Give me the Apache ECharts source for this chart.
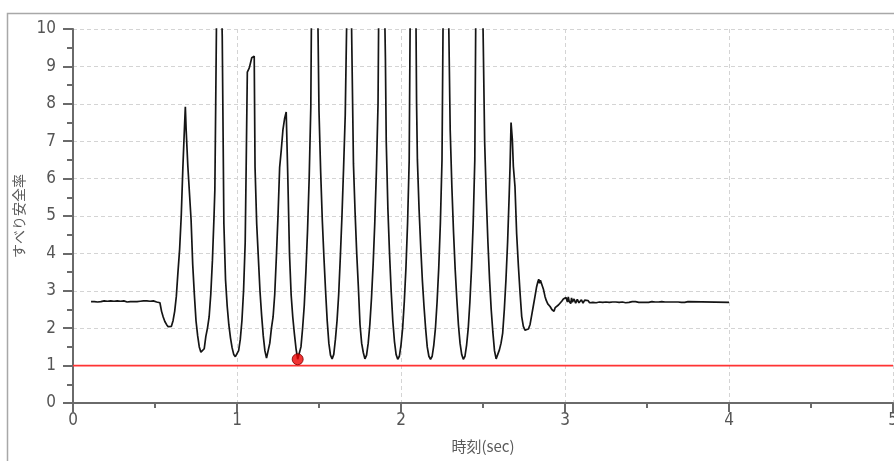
<!DOCTYPE html>
<html>
<head>
<meta charset="utf-8">
<script src="https://cdn.jsdelivr.net/npm/echarts@6/dist/echarts.min.js"></script>
<style>
html,body{margin:0;padding:0;background:#fff;}
#chart{width:894px;height:461px;}
</style>
</head>
<body>
<div id="chart"></div>
<script>
// ---- data (time [sec], sliding safety factor) ----
const xTicks = [0, 1, 2, 3, 4, 5];
const yTicks = [0, 1, 2, 3, 4, 5, 6, 7, 8, 9, 10];
const xAxisName = '時刻(sec)';
const yAxisName = 'すべり安全率';
const limitValue = 1.0;
const minimumPoint = [1.37, 1.17];

const preShaking = [
  [0.11,2.71],[0.12,2.73],[0.13,2.71],[0.14,2.72],[0.15,2.70],[0.16,2.73],[0.17,2.71],[0.18,2.71],
  [0.19,2.73],[0.20,2.70],[0.21,2.72],[0.22,2.71],[0.23,2.73],[0.24,2.70],[0.25,2.72],[0.26,2.71],
  [0.27,2.73],[0.28,2.70],[0.29,2.72],[0.30,2.71],[0.31,2.73],[0.32,2.71],[0.33,2.70],[0.34,2.72],
  [0.35,2.71],[0.36,2.71],[0.37,2.71],[0.38,2.71],[0.39,2.71],[0.40,2.71],[0.41,2.72],[0.42,2.71],
  [0.43,2.73],[0.44,2.71],[0.45,2.73],[0.46,2.70],[0.47,2.72],[0.48,2.71],[0.49,2.73],[0.50,2.72],
  [0.51,2.70],[0.52,2.72]
];

const shaking = [
  [0.53,2.68],[0.54,2.45],[0.55,2.30],[0.56,2.18],[0.57,2.10],[0.58,2.04],[0.59,2.02],[0.60,2.05],
  [0.61,2.20],[0.62,2.45],[0.63,2.85],[0.64,3.50],[0.65,4.10],[0.66,5.00],[0.67,6.30],[0.68,7.40],
  [0.685,7.92],[0.69,7.30],[0.70,6.35],[0.71,6.30],[0.72,4.90],[0.73,3.70],[0.74,2.90],[0.75,2.20],
  [0.76,1.80],[0.77,1.50],[0.78,1.36],[0.79,1.32],[0.80,1.45],[0.81,1.78],[0.82,2.00],[0.83,2.30],
  [0.84,2.90],[0.85,3.80],[0.86,5.00],[0.865,5.70],[0.87,7.90],[0.88,12.5],[0.89,14.0],[0.90,12.0],
  [0.91,9.80],[0.92,4.80],[0.93,3.30],[0.94,2.60],[0.95,2.10],[0.96,1.75],[0.97,1.48],[0.98,1.30],
  [0.99,1.24],[1.00,1.27],[1.01,1.40],[1.02,1.70],[1.03,2.20],[1.04,3.00],[1.05,4.30],[1.055,6.00],
  [1.063,8.85],[1.075,8.96],[1.09,9.23],[1.105,9.27],[1.11,6.30],[1.12,4.80],[1.13,3.90],[1.14,3.00],
  [1.15,2.35],[1.16,1.80],[1.17,1.40],[1.18,1.20],[1.19,1.22],[1.20,1.60],[1.21,2.00],[1.22,2.30],
  [1.23,2.90],[1.24,3.90],[1.25,5.00],[1.26,6.30],[1.27,6.77],[1.28,7.30],[1.29,7.60],[1.30,7.78],
  [1.31,6.00],[1.32,4.00],[1.33,2.90],[1.34,2.30],[1.35,1.85],[1.36,1.45],[1.37,1.17],[1.38,1.22],
  [1.39,1.50],[1.40,2.00],[1.41,2.60],[1.42,3.50],[1.43,4.60],[1.44,6.00],[1.45,7.90],[1.455,11.0],
  [1.47,15.0],[1.485,13.0],[1.495,9.60],[1.50,7.80],[1.51,6.20],[1.52,4.90],[1.53,3.90],[1.54,3.00],
  [1.55,2.20],[1.56,1.60],[1.57,1.28],[1.58,1.18],[1.59,1.30],[1.60,1.70],[1.61,2.20],[1.62,2.90],
  [1.63,3.90],[1.64,5.00],[1.65,6.30],[1.66,7.70],[1.67,10.5],[1.68,14.0],[1.69,13.0],[1.70,9.60],
  [1.71,6.40],[1.72,5.10],[1.73,4.00],[1.74,3.10],[1.75,2.10],[1.76,1.60],[1.77,1.35],[1.78,1.18],
  [1.79,1.28],[1.80,1.60],[1.81,2.10],[1.82,2.80],[1.83,3.70],[1.84,4.80],[1.85,6.20],[1.86,8.00],
  [1.865,11.0],[1.88,15.0],[1.895,12.0],[1.905,9.20],[1.91,7.00],[1.92,5.20],[1.93,4.00],[1.94,3.00],
  [1.95,2.20],[1.96,1.65],[1.97,1.30],[1.98,1.17],[1.99,1.25],[2.00,1.55],[2.01,2.00],[2.02,2.70],
  [2.03,3.60],[2.04,4.80],[2.05,6.50],[2.057,11.0],[2.07,15.0],[2.085,14.0],[2.095,8.00],[2.10,6.50],
  [2.11,5.20],[2.12,4.20],[2.13,3.30],[2.14,2.60],[2.15,2.00],[2.16,1.50],[2.17,1.25],[2.18,1.17],
  [2.19,1.25],[2.20,1.55],[2.21,2.00],[2.22,2.70],[2.23,3.60],[2.24,4.80],[2.25,6.50],[2.258,11.0],
  [2.275,15.0],[2.29,10.5],[2.295,8.90],[2.30,7.30],[2.31,5.80],[2.32,4.60],[2.33,3.60],[2.34,2.80],
  [2.35,2.10],[2.36,1.60],[2.37,1.30],[2.38,1.17],[2.39,1.25],[2.40,1.55],[2.41,2.00],[2.42,2.70],
  [2.43,3.60],[2.44,4.80],[2.45,6.50],[2.457,11.0],[2.475,15.0],[2.49,13.0],[2.502,9.50],[2.51,7.00],
  [2.52,5.50],[2.53,4.30],[2.54,3.30],[2.55,2.50],[2.56,1.90],[2.57,1.40],[2.58,1.18],[2.59,1.20],
  [2.60,1.42],[2.61,1.60],[2.62,1.87],[2.63,2.50],[2.64,3.30],[2.65,4.30],[2.66,5.60],[2.665,6.33],
  [2.671,7.50],[2.679,7.04],[2.685,6.33],[2.695,5.79],[2.705,4.54],[2.716,3.65],[2.726,2.94],[2.736,2.31],
  [2.746,2.05],[2.756,1.95],[2.766,1.91],[2.777,1.98],[2.787,2.10],[2.797,2.35],[2.807,2.60],[2.817,2.85],
  [2.827,3.11],[2.835,3.25],[2.84,3.31],[2.845,3.20],[2.85,3.28],[2.86,3.25],[2.868,3.05],[2.878,2.85],
  [2.885,2.75],[2.89,2.80],[2.895,2.65],[2.909,2.58],[2.915,2.62],[2.92,2.50],[2.925,2.55],[2.933,2.45],
  [2.94,2.55],[2.945,2.50],[2.95,2.60],[2.96,2.62],[2.97,2.67],[2.98,2.72],[2.99,2.78],[3.00,2.76],
  [3.006,2.82]
];

const settling = [
  [3.01,2.78],[3.015,2.70],[3.02,2.84],[3.025,2.72],[3.03,2.74],[3.035,2.66],[3.04,2.81],[3.045,2.70],
  [3.05,2.70],[3.055,2.78],[3.06,2.79],[3.065,2.67],[3.07,2.68],[3.075,2.77],[3.08,2.77],[3.085,2.68],
  [3.09,2.71],[3.10,2.76],[3.11,2.67],[3.12,2.75],[3.13,2.70],[3.14,2.74],[3.15,2.68],[3.16,2.73],
  [3.17,2.69],[3.18,2.74],[3.19,2.68],[3.20,2.72],[3.21,2.70],[3.22,2.73],[3.23,2.69],[3.24,2.72],
  [3.25,2.70],[3.26,2.72],[3.27,2.69],[3.28,2.71],[3.29,2.70],[3.30,2.72],[3.31,2.70],[3.32,2.71],
  [3.33,2.69],[3.34,2.71],[3.35,2.70],[3.36,2.70],[3.37,2.68],[3.38,2.68],[3.39,2.69],[3.40,2.69],
  [3.41,2.71],[3.42,2.69],[3.43,2.71],[3.44,2.70],[3.45,2.69],[3.46,2.71],[3.47,2.69],[3.48,2.71],
  [3.49,2.69],[3.50,2.70],[3.51,2.69],[3.52,2.70],[3.53,2.71],[3.54,2.69],[3.55,2.70],[3.56,2.69],
  [3.57,2.70],[3.58,2.72],[3.59,2.71],[3.60,2.72],[3.61,2.70],[3.62,2.69],[3.63,2.70],[3.64,2.70],
  [3.65,2.70],[3.66,2.69],[3.67,2.70],[3.68,2.69],[3.69,2.70],[3.70,2.71],[3.71,2.69],[3.72,2.70],
  [3.73,2.69],[3.74,2.71],[3.75,2.71],[3.76,2.72],[4.00,2.69]
];

const trace = preShaking.concat(shaking, settling);

// ---- chart ----
const labelFont = "'Liberation Sans Narrow', 'DejaVu Sans Condensed', 'Liberation Sans', sans-serif";
const cjkFont = "'Noto Sans CJK JP', sans-serif";
const axisGray = '#6a6a6a';
const gridGray = '#d4d4d4';

const chart = echarts.init(document.getElementById('chart'), null, {renderer: 'canvas'});
chart.setOption({
  animation: false,
  backgroundColor: '#ffffff',
  graphic: [{
    type: 'rect',
    shape: {x: 7.5, y: 13.5, width: 1000, height: 1000},
    style: {fill: 'none', stroke: '#a8a8a8', lineWidth: 1.5},
    silent: true, z: 0
  }],
  grid: {left: 73, right: 1, top: 29, bottom: 58, containLabel: false, outerBoundsMode: 'none'},
  xAxis: {
    type: 'value',
    min: xTicks[0], max: xTicks[xTicks.length - 1], interval: 1,
    name: xAxisName, nameLocation: 'middle', nameGap: 36,
    nameTextStyle: {fontFamily: cjkFont, fontSize: 15, color: '#5a5a5a'},
    axisLine: {show: true, onZero: false, lineStyle: {color: axisGray, width: 2}},
    axisTick: {show: true, length: 9, lineStyle: {color: axisGray, width: 2}},
    minorTick: {show: true, splitNumber: 2, length: 5, lineStyle: {color: axisGray, width: 2}},
    axisLabel: {margin: 9, fontFamily: labelFont, fontSize: 17, color: '#555', showMaxLabel: true},
    splitLine: {show: true, lineStyle: {color: gridGray, type: [4, 3], width: 1}}
  },
  yAxis: {
    type: 'value',
    min: yTicks[0], max: yTicks[yTicks.length - 1], interval: 1,
    name: yAxisName, nameLocation: 'middle', nameGap: 43, nameRotate: 90,
    nameTextStyle: {fontFamily: cjkFont, fontSize: 14, color: '#5a5a5a'},
    axisLine: {show: true, onZero: false, lineStyle: {color: axisGray, width: 2}},
    axisTick: {show: true, length: 10, lineStyle: {color: axisGray, width: 2}},
    minorTick: {show: true, splitNumber: 2, length: 6, lineStyle: {color: axisGray, width: 2}},
    axisLabel: {margin: 17, fontFamily: labelFont, fontSize: 17, color: '#555'},
    splitLine: {show: true, lineStyle: {color: gridGray, type: [4, 3], width: 1}}
  },
  series: [
    {
      name: 'limit', type: 'line',
      data: [[xTicks[0], limitValue], [xTicks[xTicks.length - 1], limitValue]],
      symbol: 'none', lineStyle: {color: '#ff3333', width: 1.6}, z: 2, silent: true
    },
    {
      name: 'safety', type: 'line', data: trace, symbol: 'none', clip: true,
      lineStyle: {color: '#151515', width: 1.7}, z: 3, silent: true
    },
    {
      name: 'minimum', type: 'scatter', data: [minimumPoint], symbol: 'circle', symbolSize: 11,
      itemStyle: {color: '#ee0000', borderColor: '#7a0000', borderWidth: 1}, z: 4, silent: true
    }
  ]
});
</script>
</body>
</html>
